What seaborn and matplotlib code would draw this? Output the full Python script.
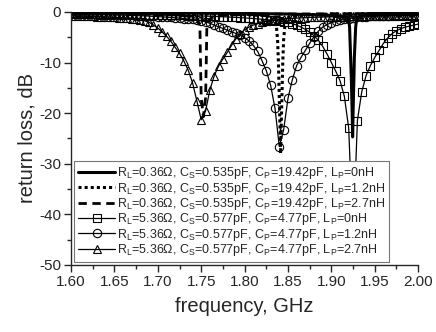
import numpy as np
import pandas as pd
import seaborn as sns
import matplotlib
matplotlib.use("Agg")
import matplotlib.pyplot as plt
from matplotlib.ticker import MultipleLocator

# ---- data ----
# narrow-band curves (RL=0.36 ohm), sampled only where the shape changes
f_lp0 = [1.60, 1.70, 1.80, 1.85, 1.88, 1.90, 1.91, 1.915, 1.9197, 1.921, 1.922,
         1.923, 1.924, 1.9245, 1.925, 1.926, 1.9265, 1.928, 1.9293, 1.932, 1.94,
         1.96, 2.00]
rl_lp0 = [-0.15, -0.2, -0.3, -0.4, -0.55, -0.7, -0.85, -1.0, -1.2, -3.0, -8.0,
          -13.0, -20.0, -24.7, -20.0, -13.0, -9.0, -3.0, -1.2, -0.9, -0.6,
          -0.4, -0.25]

f_lp12 = [1.60, 1.70, 1.76, 1.80, 1.82, 1.83, 1.835, 1.8365, 1.838, 1.839, 1.840,
          1.8415, 1.843, 1.844, 1.845, 1.8465, 1.848, 1.855, 1.87, 1.90, 2.00]
rl_lp12 = [-0.2, -0.3, -0.4, -0.55, -0.7, -0.9, -1.3, -2.5, -5.5, -10.0, -17.0,
           -28.0, -17.0, -10.0, -5.5, -2.5, -1.3, -0.9, -0.6, -0.4, -0.25]

f_lp27 = [1.60, 1.68, 1.72, 1.74, 1.746, 1.7485, 1.749, 1.7495, 1.750, 1.7525,
          1.755, 1.7555, 1.756, 1.7565, 1.759, 1.765, 1.78, 1.82, 1.90, 2.00]
rl_lp27 = [-0.3, -0.45, -0.6, -0.9, -1.5, -3.0, -8.0, -13.0, -17.0, -20.7,
           -17.0, -13.0, -8.0, -3.0, -1.5, -0.9, -0.6, -0.45, -0.35, -0.3]

# broad curves (RL=5.36 ohm), one point every 5 MHz
freq = [1.600, 1.605, 1.610, 1.615, 1.620, 1.625, 1.630, 1.635, 1.640, 1.645,
        1.650, 1.655, 1.660, 1.665, 1.670, 1.675, 1.680, 1.685, 1.690, 1.695,
        1.700, 1.705, 1.710, 1.715, 1.720, 1.725, 1.730, 1.735, 1.740, 1.745,
        1.750, 1.755, 1.760, 1.765, 1.770, 1.775, 1.780, 1.785, 1.790, 1.795,
        1.800, 1.805, 1.810, 1.815, 1.820, 1.825, 1.830, 1.835, 1.840, 1.845,
        1.850, 1.855, 1.860, 1.865, 1.870, 1.875, 1.880, 1.885, 1.890, 1.895,
        1.900, 1.905, 1.910, 1.915, 1.920, 1.925, 1.930, 1.935, 1.940, 1.945,
        1.950, 1.955, 1.960, 1.965, 1.970, 1.975, 1.980, 1.985, 1.990, 1.995,
        2.000]

rl_sq = [-0.30, -0.31, -0.32, -0.33, -0.34, -0.35, -0.36, -0.37, -0.38, -0.39,
         -0.40, -0.41, -0.42, -0.43, -0.45, -0.47, -0.49, -0.51, -0.53, -0.55,
         -0.57, -0.59, -0.61, -0.63, -0.65, -0.67, -0.69, -0.71, -0.73, -0.76,
         -0.79, -0.82, -0.85, -0.88, -0.91, -0.95, -0.99, -1.03, -1.08, -1.13,
         -1.18, -1.24, -1.30, -1.37, -1.44, -1.52, -1.60, -1.68, -1.77, -1.90,
         -2.05, -2.30, -2.60, -3.00, -3.45, -4.00, -4.70, -5.60, -6.80, -8.30,
         -10.0, -11.7, -13.6, -16.7, -23.0, -45.0, -21.5, -15.8, -12.6, -10.6,
         -9.0, -7.6, -6.2, -5.1, -4.3, -3.7, -3.3, -3.0, -2.8, -2.6,
         -2.4]

rl_ci = [-0.45, -0.46, -0.47, -0.48, -0.49, -0.50, -0.52, -0.53, -0.55, -0.57,
         -0.59, -0.61, -0.63, -0.66, -0.69, -0.72, -0.75, -0.79, -0.83, -0.87,
         -0.92, -0.97, -1.02, -1.08, -1.15, -1.22, -1.30, -1.39, -1.49, -1.60,
         -1.72, -1.95, -2.25, -2.60, -2.95, -3.25, -3.60, -3.95, -4.25, -4.60,
         -5.10, -5.70, -6.60, -7.80, -9.60, -11.6, -14.5, -19.0, -26.6, -23.3,
         -17.1, -13.4, -10.6, -9.0, -7.6, -6.2, -4.9, -3.8, -3.0, -2.5,
         -2.1, -1.85, -1.65, -1.45, -1.30, -1.18, -1.08, -1.00, -0.93, -0.87,
         -0.82, -0.78, -0.75, -0.72, -0.70, -0.68, -0.66, -0.64, -0.63, -0.62,
         -0.61]

rl_tr = [-0.75, -0.77, -0.79, -0.81, -0.84, -0.87, -0.90, -0.94, -0.98, -1.03,
         -1.08, -1.14, -1.20, -1.27, -1.35, -1.45, -1.58, -1.75, -2.05, -2.60,
         -3.20, -3.95, -4.80, -5.80, -7.00, -8.20, -9.70, -11.5, -14.0, -17.6,
         -21.3, -19.6, -15.4, -12.6, -10.7, -9.3, -8.0, -6.6, -5.3, -4.3,
         -3.5, -3.0, -2.6, -2.3, -2.05, -1.85, -1.70, -1.58, -1.48, -1.40,
         -1.33, -1.27, -1.22, -1.17, -1.13, -1.09, -1.06, -1.03, -1.00, -0.98,
         -0.96, -0.94, -0.92, -0.90, -0.88, -0.87, -0.86, -0.85, -0.84, -0.83,
         -0.82, -0.81, -0.80, -0.79, -0.78, -0.78, -0.77, -0.77, -0.76, -0.76,
         -0.75]

labels = [
    r'R$_\mathregular{L}$=0.36Ω, C$_\mathregular{S}$=0.535pF, C$_\mathregular{P}$=19.42pF, L$_\mathregular{P}$=0nH',
    r'R$_\mathregular{L}$=0.36Ω, C$_\mathregular{S}$=0.535pF, C$_\mathregular{P}$=19.42pF, L$_\mathregular{P}$=1.2nH',
    r'R$_\mathregular{L}$=0.36Ω, C$_\mathregular{S}$=0.535pF, C$_\mathregular{P}$=19.42pF, L$_\mathregular{P}$=2.7nH',
    r'R$_\mathregular{L}$=5.36Ω, C$_\mathregular{S}$=0.577pF, C$_\mathregular{P}$=4.77pF, L$_\mathregular{P}$=0nH',
    r'R$_\mathregular{L}$=5.36Ω, C$_\mathregular{S}$=0.577pF, C$_\mathregular{P}$=4.77pF, L$_\mathregular{P}$=1.2nH',
    r'R$_\mathregular{L}$=5.36Ω, C$_\mathregular{S}$=0.577pF, C$_\mathregular{P}$=4.77pF, L$_\mathregular{P}$=2.7nH',
]

# ---- style ----
sns.set_style("ticks")
plt.rcParams['font.family'] = ['Liberation Sans', 'DejaVu Sans']
plt.rcParams['axes.unicode_minus'] = False
plt.rcParams['mathtext.fontset'] = 'custom'
plt.rcParams['mathtext.rm'] = 'Liberation Sans'

fig = plt.figure(figsize=(4.36, 3.32), dpi=100)
ax = fig.add_axes([0.163, 0.202, 0.796, 0.762])

# thick lines without markers
sns.lineplot(x=f_lp0, y=rl_lp0, ax=ax, color='black', lw=2.2, estimator=None,
             sort=False, label=labels[0])
sns.lineplot(x=f_lp12, y=rl_lp12, ax=ax, color='black', lw=2.2, estimator=None,
             sort=False, linestyle=(0, (1, 1)), label=labels[1])
sns.lineplot(x=f_lp27, y=rl_lp27, ax=ax, color='black', lw=2.0, estimator=None,
             sort=False, linestyle=(0, (3, 2)), label=labels[2])

# thin lines with open markers
mk = dict(color='black', lw=0.9, estimator=None, sort=False, markersize=6,
          markerfacecolor='none', markeredgecolor='black', markeredgewidth=0.8)
sns.lineplot(x=freq, y=rl_sq, ax=ax, marker='s', label=labels[3], **mk)
sns.lineplot(x=freq, y=rl_ci, ax=ax, marker='o', label=labels[4], **mk)
sns.lineplot(x=freq, y=rl_tr, ax=ax, marker='^', label=labels[5], **mk)

ax.set_xlim(1.60, 2.00)
ax.set_ylim(-50, 0)
ax.xaxis.set_major_locator(MultipleLocator(0.05))
ax.xaxis.set_minor_locator(MultipleLocator(0.025))
ax.yaxis.set_major_locator(MultipleLocator(10))
ax.yaxis.set_minor_locator(MultipleLocator(5))
ax.xaxis.set_major_formatter(matplotlib.ticker.FormatStrFormatter('%.2f'))
ax.tick_params(which='major', length=5, width=1, labelsize=11, pad=2)
ax.tick_params(which='minor', length=3, width=1)

for s in ['top', 'right']:
    ax.spines[s].set_visible(False)
for s in ['left', 'bottom']:
    ax.spines[s].set_linewidth(1)

ax.set_xlabel('frequency, GHz', fontsize=14.5, labelpad=6)
ax.set_ylabel('return loss, dB', fontsize=14.5, labelpad=2)

leg = ax.legend(loc='lower left', fontsize=9, frameon=True, fancybox=False,
                handlelength=3.0, handletextpad=0.1, labelspacing=-0.05,
                borderaxespad=0.25, borderpad=0.3, numpoints=1)
leg.get_frame().set_edgecolor('#777777')
leg.get_frame().set_linewidth(0.8)
leg.get_frame().set_alpha(1)
leg.set_zorder(10)

fig.savefig('out.png', dpi=100)
